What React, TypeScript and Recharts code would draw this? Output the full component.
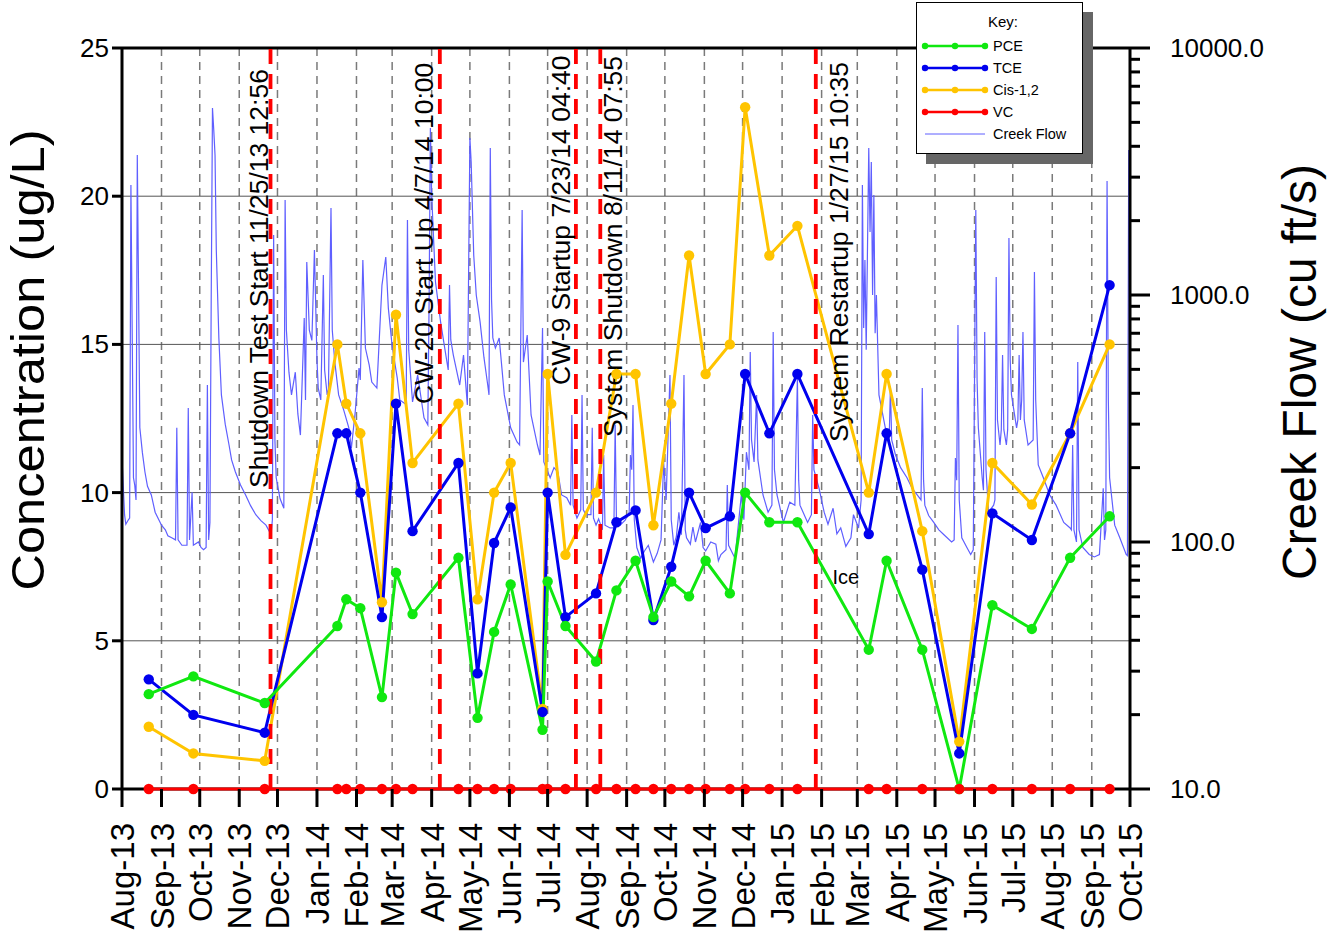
import {
  ComposedChart,
  Line,
  XAxis,
  YAxis,
  CartesianGrid,
  ReferenceLine,
  ReferenceDot,
  Legend,
} from "recharts";

const FONT = "Arial, 'Liberation Sans', sans-serif";

// groundwater sampling events
const sampleDates = [
  "2013-08-22", "2013-09-26", "2013-11-21", "2014-01-17", "2014-01-24",
  "2014-02-04", "2014-02-21", "2014-03-04", "2014-03-17", "2014-04-22",
  "2014-05-07", "2014-05-20", "2014-06-02", "2014-06-27", "2014-07-01",
  "2014-07-15", "2014-08-08", "2014-08-24", "2014-09-08", "2014-09-22",
  "2014-10-06", "2014-10-20", "2014-11-02", "2014-11-21", "2014-12-03",
  "2014-12-22", "2015-01-13", "2015-03-10", "2015-03-24", "2015-04-21",
  "2015-05-20", "2015-06-15", "2015-07-16", "2015-08-15", "2015-09-15",
];
const pceValues = [
  3.2, 3.8, 2.9, 5.5, 6.4, 6.1, 3.1, 7.3, 5.9, 7.8, 2.4, 5.3, 6.9, 2.0, 7.0,
  5.5, 4.3, 6.7, 7.7, 5.8, 7.0, 6.5, 7.7, 6.6, 10, 9.0, 9.0, 4.7, 7.7, 4.7,
  0, 6.2, 5.4, 7.8, 9.2,
];
const tceValues = [
  3.7, 2.5, 1.9, 12, 12, 10, 5.8, 13, 8.7, 11, 3.9, 8.3, 9.5, 2.6, 10,
  5.8, 6.6, 9.0, 9.4, 5.7, 7.5, 10, 8.8, 9.2, 14, 12, 14, 8.6, 12, 7.4,
  1.2, 9.3, 8.4, 12, 17,
];
const cisValues = [
  2.1, 1.2, 0.95, 15, 13, 12, 6.3, 16, 11, 13, 6.4, 10, 11, 2.7, 14,
  7.9, 10, 14, 14, 8.9, 13, 18, 14, 15, 23, 18, 19, 10, 14, 8.7,
  1.6, 11, 9.6, 12, 15,
];
const vcValues = [
  0, 0, 0, 0, 0, 0, 0, 0, 0, 0, 0, 0, 0, 0, 0, 0, 0, 0, 0, 0, 0, 0, 0, 0, 0,
  0, 0, 0, 0, 0, 0, 0, 0, 0, 0,
];

// daily creek flow (cu ft/s)
const creekFlow: [string, number][] = [
  ["2013-08-01", 219], ["2013-08-03", 129], ["2013-08-04", 118], ["2013-08-06", 123], ["2013-08-07", 125],
  ["2013-08-08", 2790], ["2013-08-10", 182], ["2013-08-11", 170], ["2013-08-12", 148], ["2013-08-13", 3690],
  ["2013-08-15", 290], ["2013-08-17", 230], ["2013-08-19", 192], ["2013-08-21", 168], ["2013-08-24", 155],
  ["2013-08-27", 132], ["2013-09-01", 117], ["2013-09-04", 112], ["2013-09-06", 106],
  ["2013-09-09", 104], ["2013-09-12", 102], ["2013-09-13", 290], ["2013-09-14", 102],
  ["2013-09-17", 97], ["2013-09-21", 97], ["2013-09-22", 349], ["2013-09-23", 102],
  ["2013-09-25", 159], ["2013-09-26", 97], ["2013-09-30", 100], ["2013-10-02", 95], ["2013-10-04", 93],
  ["2013-10-06", 95], ["2013-10-07", 432], ["2013-10-08", 102], ["2013-10-09", 120],
  ["2013-10-10", 955], ["2013-10-11", 5715], ["2013-10-12", 4660], ["2013-10-13", 3690],
  ["2013-10-14", 1520], ["2013-10-16", 670], ["2013-10-18", 394], ["2013-10-21", 300], ["2013-10-24", 247],
  ["2013-10-26", 215], ["2013-10-29", 192], ["2013-11-02", 170], ["2013-11-06", 155], ["2013-11-10", 140],
  ["2013-11-14", 129], ["2013-11-18", 122], ["2013-11-22", 117],
  ["2013-11-26", 107], ["2013-11-27", 123], ["2013-11-28", 1750], ["2013-11-29", 258],
  ["2013-11-30", 182], ["2013-12-03", 150], ["2013-12-06", 137], ["2013-12-07", 2425], ["2013-12-08", 721],
  ["2013-12-10", 487], ["2013-12-12", 394], ["2013-12-15", 487], ["2013-12-17", 330], ["2013-12-19", 271],
  ["2013-12-22", 807], ["2013-12-23", 376], ["2013-12-24", 1361], ["2013-12-26", 721],
  ["2013-12-28", 655], ["2013-12-30", 1520], ["2014-01-01", 545], ["2014-01-02", 420],
  ["2014-01-04", 376], ["2014-01-06", 1205], ["2014-01-07", 497], ["2014-01-09", 394],
  ["2014-01-10", 415], ["2014-01-12", 2250], ["2014-01-13", 721], ["2014-01-15", 535],
  ["2014-01-18", 394], ["2014-01-22", 342], ["2014-01-26", 290], ["2014-01-28", 240],
  ["2014-01-31", 336], ["2014-02-03", 506], ["2014-02-04", 453], ["2014-02-06", 1386],
  ["2014-02-08", 610], ["2014-02-11", 520], ["2014-02-13", 444], ["2014-02-17", 420], ["2014-02-21", 1097],
  ["2014-02-24", 1425], ["2014-02-26", 885], ["2014-03-01", 620], ["2014-03-05", 461], ["2014-03-07", 376],
  ["2014-03-12", 360], ["2014-03-13", 2013], ["2014-03-14", 598], ["2014-03-17", 369],
  ["2014-03-21", 474], ["2014-03-26", 318], ["2014-03-29", 298], ["2014-03-30", 955],
  ["2014-03-31", 4740], ["2014-04-01", 2540], ["2014-04-04", 1129], ["2014-04-08", 778],
  ["2014-04-13", 535], ["2014-04-14", 497], ["2014-04-15", 1097], ["2014-04-16", 658],
  ["2014-04-18", 571], ["2014-04-23", 432], ["2014-04-26", 571], ["2014-04-29", 359],
  ["2014-05-01", 4325], ["2014-05-02", 3455], ["2014-05-04", 1451], ["2014-05-06", 1000], ["2014-05-09", 778],
  ["2014-05-12", 560], ["2014-05-15", 432], ["2014-05-16", 394], ["2014-05-17", 3940], ["2014-05-18", 955],
  ["2014-05-19", 670], ["2014-05-21", 610], ["2014-05-24", 670], ["2014-05-28", 394],
  ["2014-06-02", 290], ["2014-06-07", 254], ["2014-06-09", 247], ["2014-06-11", 2210],
  ["2014-06-12", 535], ["2014-06-15", 689], ["2014-06-18", 327], ["2014-06-23", 247],
  ["2014-06-25", 225], ["2014-06-27", 735], ["2014-06-28", 211], ["2014-07-03", 182],
  ["2014-07-06", 200], ["2014-07-09", 192], ["2014-07-12", 155], ["2014-07-16", 151], ["2014-07-19", 141],
  ["2014-07-20", 327], ["2014-07-21", 141], ["2014-07-24", 125], ["2014-07-27", 135],
  ["2014-07-28", 394], ["2014-07-29", 135], ["2014-07-31", 129], ["2014-08-04", 129],
  ["2014-08-05", 290], ["2014-08-06", 125], ["2014-08-08", 117], ["2014-08-10", 124], ["2014-08-13", 112],
  ["2014-08-14", 225], ["2014-08-15", 117], ["2014-08-19", 114], ["2014-08-22", 114],
  ["2014-08-23", 298], ["2014-08-24", 123], ["2014-08-27", 117], ["2014-08-31", 123],
  ["2014-09-03", 132], ["2014-09-04", 225], ["2014-09-05", 196], ["2014-09-06", 359],
  ["2014-09-07", 123], ["2014-09-09", 95], ["2014-09-12", 86], ["2014-09-15", 92], ["2014-09-18", 97],
  ["2014-09-22", 83], ["2014-09-25", 90], ["2014-09-28", 102], ["2014-09-30", 211], ["2014-10-02", 148],
  ["2014-10-05", 474], ["2014-10-06", 123], ["2014-10-08", 97], ["2014-10-10", 105], ["2014-10-12", 132],
  ["2014-10-14", 107], ["2014-10-16", 474], ["2014-10-17", 112], ["2014-10-18", 104], ["2014-10-21", 98],
  ["2014-10-23", 115], ["2014-10-25", 100], ["2014-10-29", 120], ["2014-10-31", 95], ["2014-11-02", 92],
  ["2014-11-06", 100], ["2014-11-10", 98], ["2014-11-12", 84], ["2014-11-14", 89],
  ["2014-11-18", 93], ["2014-11-19", 170], ["2014-11-20", 97], ["2014-11-25", 86],
  ["2014-11-30", 155], ["2014-12-02", 123], ["2014-12-04", 231], ["2014-12-06", 196],
  ["2014-12-07", 588], ["2014-12-08", 259], ["2014-12-10", 211], ["2014-12-12", 394],
  ["2014-12-13", 215], ["2014-12-17", 155], ["2014-12-21", 132], ["2014-12-24", 141],
  ["2014-12-25", 708], ["2014-12-26", 196], ["2014-12-28", 155], ["2015-01-02", 120],
  ["2015-01-07", 145], ["2015-01-11", 141], ["2015-01-13", 461], ["2015-01-14", 178],
  ["2015-01-15", 141], ["2015-01-21", 120], ["2015-01-24", 129], ["2015-01-25", 327],
  ["2015-01-26", 196], ["2015-01-30", 165], ["2015-02-03", 132], ["2015-02-06", 118], ["2015-02-10", 137],
  ["2015-02-13", 108], ["2015-02-16", 114], ["2015-02-20", 96], ["2015-02-24", 104], ["2015-02-26", 129],
  ["2015-03-02", 114], ["2015-03-04", 148], ["2015-03-05", 2790], ["2015-03-06", 735], ["2015-03-07", 1386],
  ["2015-03-08", 600], ["2015-03-10", 3940], ["2015-03-11", 1800], ["2015-03-12", 3455],
  ["2015-03-13", 1000], ["2015-03-14", 2540], ["2015-03-15", 700], ["2015-03-16", 1000],
  ["2015-03-18", 394], ["2015-03-23", 290], ["2015-03-26", 259], ["2015-03-27", 420],
  ["2015-03-28", 259], ["2015-03-31", 225], ["2015-04-04", 200], ["2015-04-09", 182], ["2015-04-13", 165],
  ["2015-04-17", 155], ["2015-04-20", 148], ["2015-04-21", 420], ["2015-04-22", 178], ["2015-04-23", 141],
  ["2015-04-26", 128], ["2015-04-30", 120], ["2015-05-04", 112], ["2015-05-08", 107], ["2015-05-14", 100],
  ["2015-05-16", 102], ["2015-05-17", 219], ["2015-05-18", 178], ["2015-05-19", 756], ["2015-05-20", 148],
  ["2015-05-22", 104], ["2015-05-26", 95], ["2015-05-29", 89], ["2015-05-31", 93],
  ["2015-06-02", 2210], ["2015-06-03", 453], ["2015-06-04", 290], ["2015-06-07", 182],
  ["2015-06-08", 162], ["2015-06-09", 708], ["2015-06-10", 196], ["2015-06-12", 132],
  ["2015-06-16", 141], ["2015-06-17", 148], ["2015-06-18", 1183], ["2015-06-19", 312],
  ["2015-06-21", 247], ["2015-06-22", 285], ["2015-06-23", 571], ["2015-06-24", 285],
  ["2015-06-26", 247], ["2015-06-27", 285], ["2015-06-28", 1700], ["2015-06-29", 545],
  ["2015-06-30", 394], ["2015-07-04", 290], ["2015-07-05", 312], ["2015-07-06", 571],
  ["2015-07-07", 312], ["2015-07-08", 376], ["2015-07-09", 708], ["2015-07-10", 312],
  ["2015-07-13", 247], ["2015-07-17", 259], ["2015-07-18", 1240], ["2015-07-19", 376],
  ["2015-07-21", 205], ["2015-07-25", 182], ["2015-07-30", 155], ["2015-08-04", 141],
  ["2015-08-10", 120], ["2015-08-15", 114], ["2015-08-16", 112], ["2015-08-17", 247],
  ["2015-08-18", 112], ["2015-08-20", 100], ["2015-08-21", 535], ["2015-08-22", 112],
  ["2015-08-25", 95], ["2015-08-30", 89], ["2015-09-03", 87], ["2015-09-07", 89], ["2015-09-10", 165],
  ["2015-09-11", 102], ["2015-09-12", 112], ["2015-09-13", 2895], ["2015-09-14", 376],
  ["2015-09-15", 182], ["2015-09-19", 117], ["2015-09-23", 104], ["2015-09-28", 89],
  ["2015-09-29", 88], ["2015-09-30", 3865],
];

const monthTicks = [
  "2013-08-01", "2013-09-01", "2013-10-01", "2013-11-01", "2013-12-01",
  "2014-01-01", "2014-02-01", "2014-03-01", "2014-04-01", "2014-05-01",
  "2014-06-01", "2014-07-01", "2014-08-01", "2014-09-01", "2014-10-01",
  "2014-11-01", "2014-12-01", "2015-01-01", "2015-02-01", "2015-03-01",
  "2015-04-01", "2015-05-01", "2015-06-01", "2015-07-01", "2015-08-01",
  "2015-09-01", "2015-10-01",
];
const concTicks = [0, 5, 10, 15, 20, 25];
const flowMajorTicks = [10, 100, 1000, 10000];
const flowMinorTicks = [
  20, 30, 40, 50, 60, 70, 80, 90, 200, 300, 400, 500, 600, 700, 800, 900,
  2000, 3000, 4000, 5000, 6000, 7000, 8000, 9000,
];

const events = [
  { date: "2013-11-25T12:56Z", text: "Shutdown Test Start 11/25/13 12:56" },
  { date: "2014-04-07T10:00Z", text: "CW-20 Start Up 4/7/14 10:00" },
  { date: "2014-07-23T04:40Z", text: "CW-9 Startup 7/23/14 04:40" },
  { date: "2014-08-11T07:55Z", text: "System Shutdown 8/11/14 07:55" },
  { date: "2015-01-27T10:35Z", text: "System Restartup 1/27/15 10:35" },
];
const iceNote = { date: "2015-02-20", conc: 7.15, text: "Ice" };

const seriesKey = [
  { key: "pce", name: "PCE", color: "#10e810" },
  { key: "tce", name: "TCE", color: "#0000ee" },
  { key: "cis", name: "Cis-1,2", color: "#ffc400" },
  { key: "vc", name: "VC", color: "#ff0000" },
];
const FLOW_COLOR = "#5f5fff";

// label placement for the event lines: offset of the text baseline from the line, and where the text starts
const eventLabelLayout = [
  { dx: -3, bottom: 488 },
  { dx: -7, bottom: 404 },
  { dx: -6, bottom: 385 },
  { dx: 22, bottom: 437 },
  { dx: 32, bottom: 442 },
];

const MONTHS = ["Jan", "Feb", "Mar", "Apr", "May", "Jun", "Jul", "Aug", "Sep", "Oct", "Nov", "Dec"];
const monthLabel = (t: number) => {
  const d = new Date(t);
  return `${MONTHS[d.getUTCMonth()]}-${String(d.getUTCFullYear()).slice(2)}`;
};

const sampleRows = sampleDates.map((d, i) => ({
  t: Date.parse(d),
  pce: pceValues[i],
  tce: tceValues[i],
  cis: cisValues[i],
  vc: vcValues[i],
}));
const flowRows = creekFlow.map(([d, v]) => ({ t: Date.parse(d), flow: v }));

const MonthTick = ({ x, y, payload }: any) => (
  <g>
    <line x1={x} y1={y} x2={x} y2={y + 18} stroke="#000" strokeWidth={3} />
    <text
      transform={`translate(${x + 12},${y + 34}) rotate(-90)`}
      textAnchor="end"
      fontSize={33}
      fontFamily={FONT}
      fill="#000"
    >
      {monthLabel(payload.value)}
    </text>
  </g>
);

const ConcTick = ({ x, y, payload }: any) => (
  <g>
    <line x1={x - 10} y1={y} x2={x} y2={y} stroke="#000" strokeWidth={3} />
    <text x={x - 13} y={y + 9} textAnchor="end" fontSize={26} fontFamily={FONT} fill="#000">
      {payload.value}
    </text>
  </g>
);

const FlowTick = ({ x, y, payload }: any) => {
  const major = flowMajorTicks.includes(payload.value);
  return (
    <g>
      <line x1={x} y1={y} x2={x + (major ? 20 : 10)} y2={y} stroke="#000" strokeWidth={3} />
      {major && (
        <text x={x + 40} y={y + 9} fontSize={26} fontFamily={FONT} fill="#000">
          {payload.value.toFixed(1)}
        </text>
      )}
    </g>
  );
};

const ConcTitle = () => (
  <text
    transform="translate(44,360) rotate(-90) scale(1.1,1)"
    textAnchor="middle"
    fontSize={46}
    fontFamily={FONT}
    fill="#000"
  >
    Concentration (ug/L)
  </text>
);

const FlowTitle = () => (
  <text transform="translate(1316,372) rotate(-90)" textAnchor="middle" fontSize={48} fontFamily={FONT} fill="#000">
    Creek Flow (cu ft/s)
  </text>
);

const KeyBox = () => (
  <svg width={182} height={168} style={{ display: "block", fontFamily: FONT }}>
    <rect x={10} y={10} width={167} height={152} fill="#666" />
    <rect x={0.5} y={0.5} width={166} height={151} fill="#fff" stroke="#000" />
    <text x={87} y={25} textAnchor="middle" fontSize={15} fill="#000">
      Key:
    </text>
    {seriesKey.map((s, i) => {
      const ry = 44 + i * 22;
      return (
        <g key={s.key}>
          <line x1={9} y1={ry} x2={69} y2={ry} stroke={s.color} strokeWidth={2.5} />
          {[9, 39, 69].map((cx) => (
            <circle key={cx} cx={cx} cy={ry} r={3.2} fill={s.color} />
          ))}
          <text x={77} y={ry + 5} fontSize={14.5} fill="#000">
            {s.name}
          </text>
        </g>
      );
    })}
    <line x1={9} y1={132} x2={69} y2={132} stroke={FLOW_COLOR} strokeWidth={1} />
    <text x={77} y={137} fontSize={14.5} fill="#000">
      Creek Flow
    </text>
  </svg>
);

const renderEventLabel = (props: any, text: string, dx: number, bottom: number) => {
  const lx = props.viewBox.x + dx;
  return (
    <text
      transform={`translate(${lx},${bottom}) rotate(-90)`}
      textAnchor="start"
      fontSize={26.5}
      fontFamily={FONT}
      fill="#000"
    >
      {text}
    </text>
  );
};

export default function App() {
  return (
    <>
      <style>{"body{margin:0}"}</style>
      <ComposedChart
        width={1331}
        height={939}
        data={sampleRows}
        margin={{ top: 48, right: 0, bottom: 0, left: 0 }}
        style={{ fontFamily: FONT, background: "#fff" }}
      >
        <CartesianGrid
          xAxisId={0}
          yAxisId="conc"
          horizontal={false}
          stroke="#7a7a7a"
          strokeWidth={1.5}
          strokeDasharray="8 6"
        />
        <CartesianGrid xAxisId={0} yAxisId="conc" vertical={false} stroke="#555" strokeWidth={1} />
        {/* bottom frame line sits in the grid layer so the VC series is drawn over it */}
        <CartesianGrid
          xAxisId={0}
          yAxisId="conc"
          vertical={false}
          horizontalValues={[0]}
          stroke="#000"
          strokeWidth={3}
        />
        <XAxis
          xAxisId={0}
          dataKey="t"
          type="number"
          domain={[Date.parse(monthTicks[0]), Date.parse(monthTicks[monthTicks.length - 1])]}
          ticks={monthTicks.map((d) => Date.parse(d))}
          interval={0}
          height={150}
          tickSize={0}
          tickMargin={0}
          tickLine={false}
          axisLine={false}
          tick={(p: any) => <MonthTick {...p} />}
        />
        <YAxis
          yAxisId="conc"
          orientation="left"
          width={122}
          domain={[0, 25]}
          ticks={concTicks}
          interval={0}
          tickSize={0}
          tickMargin={0}
          tickLine={false}
          axisLine={{ stroke: "#000", strokeWidth: 3 }}
          tick={(p: any) => <ConcTick {...p} />}
          label={<ConcTitle />}
        />
        <YAxis
          yAxisId="flow"
          orientation="right"
          width={201}
          scale="log"
          domain={[10, 10000]}
          ticks={[...flowMajorTicks, ...flowMinorTicks].sort((a, b) => a - b)}
          interval={0}
          tickSize={0}
          tickMargin={0}
          tickLine={false}
          axisLine={{ stroke: "#000", strokeWidth: 3 }}
          tick={(p: any) => <FlowTick {...p} />}
          label={<FlowTitle />}
        />
        <Line
          yAxisId="flow"
          data={flowRows}
          dataKey="flow"
          name="Creek Flow"
          stroke={FLOW_COLOR}
          strokeWidth={1.2}
          dot={false}
          activeDot={false}
          isAnimationActive={false}
        />
        {[seriesKey[2], seriesKey[1], seriesKey[0], seriesKey[3]].map((s) => (
          <Line
            key={s.key}
            yAxisId="conc"
            dataKey={s.key}
            name={s.name}
            stroke={s.color}
            strokeWidth={3}
            dot={{ r: 5.2, fill: s.color, stroke: s.color, strokeWidth: 0 }}
            activeDot={false}
            isAnimationActive={false}
          />
        ))}
        <ReferenceLine yAxisId="conc" y={25} stroke="#000" strokeWidth={3} />
        {events.map((ev, i) => (
          <ReferenceLine
            key={ev.text}
            yAxisId="conc"
            x={Date.parse(ev.date)}
            stroke="#ff0000"
            strokeWidth={3.8}
            strokeDasharray="15 10"
            label={(p: any) => renderEventLabel(p, ev.text, eventLabelLayout[i].dx, eventLabelLayout[i].bottom)}
          />
        ))}
        <ReferenceDot
          yAxisId="conc"
          x={Date.parse(iceNote.date)}
          y={iceNote.conc}
          r={0}
          fill="none"
          stroke="none"
          label={{ value: iceNote.text, position: "center", fontSize: 20, fill: "#000" }}
        />
        <Legend
          layout="vertical"
          align="center"
          verticalAlign="middle"
          content={() => <KeyBox />}
          wrapperStyle={{ position: "absolute", left: 916, top: 2, width: 182, height: 168 }}
        />
      </ComposedChart>
    </>
  );
}
